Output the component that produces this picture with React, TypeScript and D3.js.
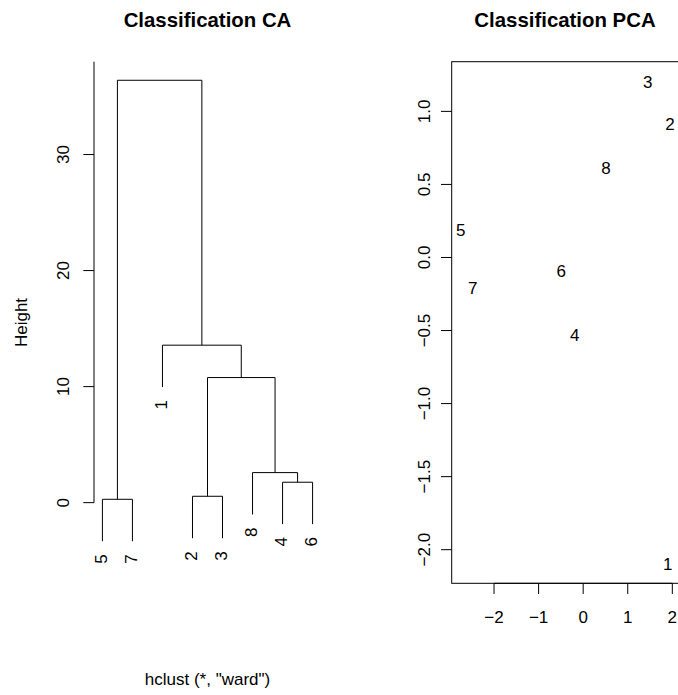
import React from "react";
import { scaleLinear } from "d3";

// dendrogram (hclust, ward): leaves in plotting order and merges in R's convention
const leafOrder = [5, 7, 1, 2, 3, 8, 4, 6];
const mergeLeft = [-5, -2, -4, -8, 2, -1, 1];
const mergeRight = [-7, -3, -6, 3, 4, 5, 6];
const mergeHeight = [0.29, 0.55, 1.76, 2.59, 10.78, 13.57, 36.4];
const heightTicks = [0, 10, 20, 30];

// PCA scores labelled by observation
const pcaLabels = ["1", "2", "3", "4", "5", "6", "7", "8"];
const pcaX = [1.9, 1.95, 1.45, -0.19, -2.75, -0.49, -2.48, 0.51];
const pcaY = [-2.1, 0.91, 1.2, -0.53, 0.19, -0.09, -0.21, 0.61];
const pcaXTicks = [-2, -1, 0, 1, 2];
const pcaYTicks = [-2.0, -1.5, -1.0, -0.5, 0.0, 0.5, 1.0];

const FONT = "'Liberation Sans', Arial, Helvetica, sans-serif";
const W = 678,
  H = 695;
const top = 61.7,
  bottom = 583.3;

const fmt1 = (v: number) => v.toFixed(1).replace("-", "\u2212");
const fmt0 = (v: number) => String(v).replace("-", "\u2212");

function Dendrogram() {
  const left = 94,
    right = 321;
  const x = scaleLinear().domain([0.72, 8.28]).range([left, right]);
  const y = scaleLinear().domain([-6.95, 38.0]).range([bottom, top]);
  const hang =
    0.1 * (Math.max(...mergeHeight) - Math.min(...mergeHeight));

  // x position of every node
  const mergeX: number[] = [];
  const nodeX = (id: number) =>
    id < 0 ? leafOrder.indexOf(-id) + 1 : mergeX[id - 1];
  mergeHeight.forEach((_, i) => {
    mergeX[i] = (nodeX(mergeLeft[i]) + nodeX(mergeRight[i])) / 2;
  });
  const nodeY = (id: number, parentH: number) =>
    id < 0 ? parentH - hang : mergeHeight[id - 1];

  const segs: string[] = [];
  const leafEnds: { label: number; x: number; y: number }[] = [];
  mergeHeight.forEach((h, i) => {
    const a = mergeLeft[i],
      b = mergeRight[i];
    const xa = x(nodeX(a)),
      xb = x(nodeX(b));
    const ya = y(nodeY(a, h)),
      yb = y(nodeY(b, h));
    const ym = y(h);
    segs.push(`M${xa},${ya}V${ym}H${xb}V${yb}`);
    [a, b].forEach((id, k) => {
      if (id < 0) leafEnds.push({ label: -id, x: k ? xb : xa, y: k ? yb : ya });
    });
  });

  const axisTop = top;
  return (
    <g fontFamily={FONT}>
      <text x={207.5} y={26.7} textAnchor="middle" fontSize={20.4} fontWeight="bold">
        Classification CA
      </text>
      {segs.map((d, i) => (
        <path key={i} d={d} fill="none" stroke="#000" strokeWidth={1} />
      ))}
      {leafEnds.map((l) => (
        <text
          key={l.label}
          transform={`translate(${l.x},${l.y + 13}) rotate(-90)`}
          textAnchor="end"
          dy="0.25em"
          fontSize={17}
        >
          {l.label}
        </text>
      ))}
      <line x1={left} x2={left} y1={y(0)} y2={axisTop} stroke="#000" />
      {heightTicks.map((t) => (
        <g key={t}>
          <line x1={left - 10.7} x2={left} y1={y(t)} y2={y(t)} stroke="#000" />
          <text
            transform={`translate(69.4,${y(t)}) rotate(-90)`}
            textAnchor="middle"
            fontSize={17}
          >
            {t}
          </text>
        </g>
      ))}
      <text transform={`translate(27,322.5) rotate(-90)`} textAnchor="middle" fontSize={17}>
        Height
      </text>
      <text x={207.5} y={685} textAnchor="middle" fontSize={17}>
        hclust (*, "ward")
      </text>
    </g>
  );
}

function PcaPlot() {
  const left = 451.7,
    right = 679;
  const x = scaleLinear().domain([-2.95, 2.15]).range([left, right]);
  const y = scaleLinear().domain([-2.23, 1.34]).range([bottom, top]);
  return (
    <g fontFamily={FONT}>
      <text x={565} y={26.7} textAnchor="middle" fontSize={20.4} fontWeight="bold">
        Classification PCA
      </text>
      <rect
        x={left}
        y={top}
        width={right - left}
        height={bottom - top}
        fill="none"
        stroke="#000"
      />
      {pcaLabels.map((l, i) => (
        <text key={l} x={x(pcaX[i])} y={y(pcaY[i])} dy="0.35em" textAnchor="middle" fontSize={17}>
          {l}
        </text>
      ))}
      <line
        x1={x(pcaXTicks[0])}
        x2={x(pcaXTicks[pcaXTicks.length - 1])}
        y1={bottom}
        y2={bottom}
        stroke="#000"
      />
      {pcaXTicks.map((t) => (
        <g key={t}>
          <line x1={x(t)} x2={x(t)} y1={bottom} y2={bottom + 10.7} stroke="#000" />
          <text x={x(t)} y={623} textAnchor="middle" fontSize={17}>
            {fmt0(t)}
          </text>
        </g>
      ))}
      {pcaYTicks.map((t) => (
        <g key={t}>
          <line x1={left - 10.7} x2={left} y1={y(t)} y2={y(t)} stroke="#000" />
          <text
            transform={`translate(430,${y(t)}) rotate(-90)`}
            textAnchor="middle"
            fontSize={17}
          >
            {fmt1(t)}
          </text>
        </g>
      ))}
    </g>
  );
}

export default function App() {
  return (
    <svg
      width={W}
      height={H}
      style={{ position: "absolute", left: 0, top: 0, background: "#fff" }}
    >
      <rect width={W} height={H} fill="#fff" />
      <Dendrogram />
      <PcaPlot />
    </svg>
  );
}
